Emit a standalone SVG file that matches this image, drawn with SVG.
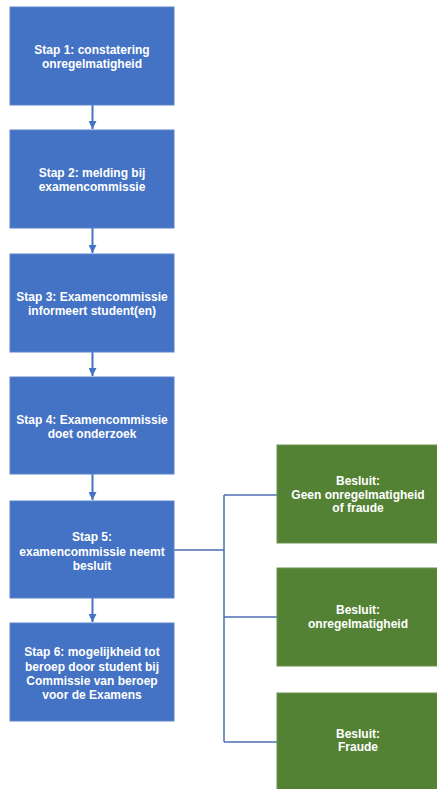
<svg xmlns="http://www.w3.org/2000/svg" width="437" height="789" viewBox="0 0 437 789">
<style>
.step{fill:#4472C4;stroke:#5B83CC;stroke-width:1}
.dec{fill:#548235;stroke:#6A9550;stroke-width:1}
text{font-family:"Liberation Sans",Arial,sans-serif;font-size:12px;font-weight:bold;fill:#ffffff;text-anchor:middle}
.arrow{stroke:#4472C4;stroke-width:2;fill:none}
.conn{stroke:#4F6FB5;stroke-width:1.5;fill:none}
</style>
<defs>
<marker id="ah" viewBox="0 0 10 10" refX="10" refY="5" markerWidth="4" markerHeight="4" orient="auto" markerUnits="strokeWidth">
<path d="M0,0 L10,5 L0,10 z" fill="#4472C4"/>
</marker>
</defs>
<rect width="437" height="789" fill="#ffffff"/>
<g id="connectors">
<line class="arrow" x1="92.5" y1="105" x2="92.5" y2="129" marker-end="url(#ah)"/>
<line class="arrow" x1="92.5" y1="228" x2="92.5" y2="253" marker-end="url(#ah)"/>
<line class="arrow" x1="92.5" y1="352" x2="92.5" y2="376" marker-end="url(#ah)"/>
<line class="arrow" x1="92.5" y1="474" x2="92.5" y2="500" marker-end="url(#ah)"/>
<line class="arrow" x1="92.5" y1="598" x2="92.5" y2="622" marker-end="url(#ah)"/>
<path class="conn" d="M174,550 H224 M224,495 V742 M224,495 H277 M224,617 H277 M224,742 H277"/>
</g>
<g id="step1">
<rect class="step" x="10" y="7" width="164" height="98"/>
<text x="92" y="54">Stap 1: constatering</text>
<text x="92" y="68">onregelmatigheid</text>
</g>
<g id="step2">
<rect class="step" x="10" y="130" width="164" height="98"/>
<text x="92" y="177">Stap 2: melding bij</text>
<text x="92" y="191">examencommissie</text>
</g>
<g id="step3">
<rect class="step" x="10" y="254" width="164" height="98"/>
<text x="92" y="301">Stap 3: Examencommissie</text>
<text x="92" y="315">informeert student(en)</text>
</g>
<g id="step4">
<rect class="step" x="10" y="377" width="164" height="97"/>
<text x="92" y="424">Stap 4: Examencommissie</text>
<text x="92" y="438">doet onderzoek</text>
</g>
<g id="step5">
<rect class="step" x="10" y="501" width="164" height="97"/>
<text x="92" y="541">Stap 5:</text>
<text x="92" y="555.5">examencommissie neemt</text>
<text x="92" y="570">besluit</text>
</g>
<g id="step6">
<rect class="step" x="10" y="623" width="164" height="98"/>
<text x="92" y="656">Stap 6: mogelijkheid tot</text>
<text x="92" y="670.5">beroep door student bij</text>
<text x="92" y="685">Commissie van beroep</text>
<text x="92" y="699">voor de Examens</text>
</g>
<g id="besluit1">
<rect class="dec" x="277" y="445" width="164" height="98"/>
<text x="358" y="485">Besluit:</text>
<text x="358" y="498.5">Geen onregelmatigheid</text>
<text x="358" y="512">of fraude</text>
</g>
<g id="besluit2">
<rect class="dec" x="277" y="568" width="164" height="98"/>
<text x="358" y="614">Besluit:</text>
<text x="358" y="628">onregelmatigheid</text>
</g>
<g id="besluit3">
<rect class="dec" x="277" y="693" width="164" height="98"/>
<text x="358" y="738">Besluit:</text>
<text x="358" y="751">Fraude</text>
</g>
</svg>
